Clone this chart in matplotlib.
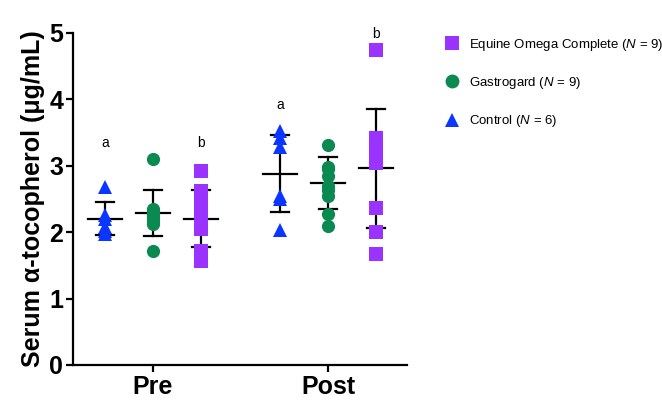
import matplotlib.pyplot as plt
from matplotlib.lines import Line2D

plt.rcParams['font.family'] = ['Liberation Sans', 'DejaVu Sans']
plt.rcParams['mathtext.fontset'] = 'custom'
plt.rcParams['mathtext.it'] = 'Liberation Sans:italic'
plt.rcParams['mathtext.rm'] = 'Liberation Sans'

timepoints = ['Pre', 'Post']
groups = ['Control', 'Gastrogard', 'Equine Omega Complete']
legend_labels = ['Equine Omega Complete ($\\it{N}$ = 9)',
                 'Gastrogard ($\\it{N}$ = 9)',
                 'Control ($\\it{N}$ = 6)']
colors = {'Control': '#0a36ff', 'Gastrogard': '#0a8a50', 'Equine Omega Complete': '#9a33ff'}
markers = {'Control': '^', 'Gastrogard': 'o', 'Equine Omega Complete': 's'}

# individual values
control_pre = [2.68, 2.26, 2.20, 2.08, 2.02, 1.98]
gastro_pre = [3.10, 2.35, 2.32, 2.28, 2.25, 2.20, 2.15, 2.12, 1.72]
eoc_pre = [2.92, 2.62, 2.55, 2.40, 2.25, 2.05, 1.72, 1.62, 1.57]
control_post = [3.53, 3.42, 3.29, 2.54, 2.50, 2.04]
gastro_post = [3.31, 2.98, 2.95, 2.85, 2.70, 2.63, 2.55, 2.28, 2.09]
eoc_post = [4.74, 3.42, 3.35, 3.25, 3.10, 3.04, 2.36, 2.01, 1.67]

# mean and SD as drawn
means = {'Control': [2.20, 2.88], 'Gastrogard': [2.29, 2.74], 'Equine Omega Complete': [2.20, 2.96]}
sds = {'Control': [0.25, 0.58], 'Gastrogard': [0.35, 0.39], 'Equine Omega Complete': [0.43, 0.89]}

points = {'Control': [control_pre, control_post],
          'Gastrogard': [gastro_pre, gastro_post],
          'Equine Omega Complete': [eoc_pre, eoc_post]}

letters = [('a', 0, 'Control', 3.34), ('b', 0, 'Equine Omega Complete', 3.34),
           ('a', 1, 'Control', 3.92), ('b', 1, 'Equine Omega Complete', 4.98)]

offsets = {'Control': -0.274, 'Gastrogard': 0.0, 'Equine Omega Complete': 0.274}

fig = plt.figure(figsize=(6.62, 4.01), dpi=100)
ax = fig.add_axes([0.110, 0.0898, 0.505, 0.828])

for g in groups:
    for i, t in enumerate(timepoints):
        x = i + offsets[g]
        vals = points[g][i]
        m = means[g][i]
        s = sds[g][i]
        # error bar (SD) and mean line
        ax.plot([x, x], [m - s, m + s], color='black', lw=1.6, zorder=2)
        ax.plot([x - 0.05, x + 0.05], [m + s, m + s], color='black', lw=1.6, zorder=2)
        ax.plot([x - 0.05, x + 0.05], [m - s, m - s], color='black', lw=1.6, zorder=2)
        ax.plot([x - 0.095, x + 0.095], [m, m], color='black', lw=1.6, zorder=2)
        ax.plot([x] * len(vals), vals, linestyle='none', marker=markers[g],
                color=colors[g], markersize=9.5, markeredgewidth=0, zorder=3)

for txt, i, g, y in letters:
    ax.text(i + offsets[g], y, txt, ha='center', va='center', fontsize=10)

ax.set_xlim(-0.457, 1.451)
ax.set_ylim(0, 5)
ax.set_xticks([0, 1])
ax.set_xticklabels(timepoints, fontsize=18, fontweight='bold')
ax.set_yticks([0, 1, 2, 3, 4, 5])
ax.set_yticklabels(['0', '1', '2', '3', '4', '5'], fontsize=18, fontweight='bold')
ax.set_ylabel('Serum α-tocopherol (μg/mL)', fontsize=18, fontweight='bold', labelpad=3)
ax.spines['top'].set_visible(False)
ax.spines['right'].set_visible(False)
ax.spines['left'].set_linewidth(1.6)
ax.spines['bottom'].set_linewidth(1.6)
ax.spines['left'].set_bounds(0, 5)
ax.tick_params(width=1.6, length=5, pad=2)

handles = [Line2D([], [], linestyle='none', marker=markers[g], color=colors[g],
                  markersize=10, markeredgewidth=0)
           for g in ['Equine Omega Complete', 'Gastrogard', 'Control']]
fig.legend(handles, legend_labels, loc='upper left', bbox_to_anchor=(0.665, 0.922),
           frameon=False, fontsize=9.5, labelspacing=1.7, handletextpad=0.75,
           handlelength=1.0, borderaxespad=0)

fig.savefig('out.png', dpi=100)
